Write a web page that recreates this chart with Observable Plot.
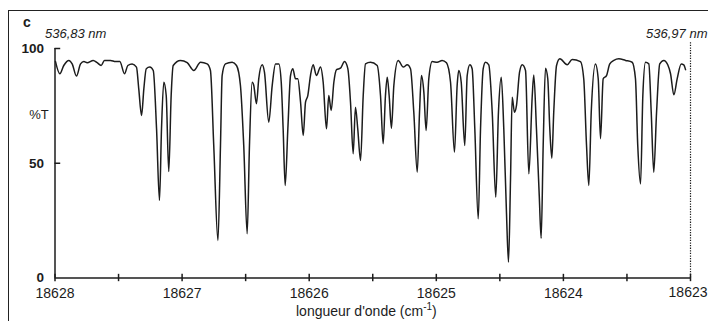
<!DOCTYPE html>
<html>
<head>
<meta charset="utf-8">
<script src="https://cdn.jsdelivr.net/npm/d3@7"></script>
<script src="https://cdn.jsdelivr.net/npm/@observablehq/plot@0.6"></script>
<style>
  html, body { margin: 0; padding: 0; background: #fff; }
  #wrap { position: relative; width: 708px; height: 321px; overflow: hidden; }
  #border { position: absolute; left: 8px; top: 10px; width: 800px; height: 400px;
            border-left: 1.5px solid #222; border-top: 1.5px solid #222; }
  #chart { position: absolute; left: 0; top: 0; }
</style>
</head>
<body>
<div id="wrap"><div id="border"></div><div id="chart"></div></div>
<script>
// wavenumber (cm-1)
const wavenumber = [
18627.996,18627.962,18627.931,18627.891,18627.865,18627.831,18627.799,18627.773,18627.747,18627.699,
18627.668,18627.637,18627.611,18627.563,18627.524,18627.490,18627.453,18627.427,18627.393,18627.359,
18627.341,18627.319,18627.301,18627.282,18627.254,18627.227,18627.201,18627.178,18627.162,18627.144,
18627.125,18627.105,18627.086,18627.070,18627.013,18626.960,18626.908,18626.855,18626.803,18626.777,
18626.751,18626.718,18626.698,18626.685,18626.659,18626.606,18626.572,18626.541,18626.515,18626.488,
18626.470,18626.449,18626.436,18626.415,18626.397,18626.370,18626.352,18626.318,18626.291,18626.265,
18626.239,18626.220,18626.205,18626.189,18626.168,18626.147,18626.129,18626.108,18626.090,18626.068,
18626.047,18626.029,18626.011,18625.990,18625.969,18625.943,18625.911,18625.890,18625.864,18625.846,
18625.827,18625.806,18625.785,18625.754,18625.722,18625.696,18625.675,18625.654,18625.636,18625.618,
18625.596,18625.575,18625.557,18625.518,18625.465,18625.439,18625.418,18625.400,18625.386,18625.371,
18625.353,18625.334,18625.300,18625.260,18625.229,18625.203,18625.177,18625.150,18625.132,18625.117,
18625.098,18625.080,18625.059,18625.032,18624.993,18624.954,18624.920,18624.888,18624.857,18624.836,
18624.823,18624.804,18624.776,18624.757,18624.736,18624.718,18624.697,18624.670,18624.652,18624.631,
18624.613,18624.587,18624.560,18624.532,18624.511,18624.489,18624.469,18624.448,18624.432,18624.416,
18624.403,18624.385,18624.369,18624.345,18624.324,18624.298,18624.272,18624.245,18624.233,18624.212,
18624.190,18624.175,18624.159,18624.141,18624.123,18624.107,18624.091,18624.076,18624.054,18624.028,
18623.970,18623.931,18623.866,18623.840,18623.818,18623.800,18623.781,18623.748,18623.726,18623.708,
18623.687,18623.661,18623.635,18623.603,18623.564,18623.511,18623.459,18623.433,18623.415,18623.393,
18623.375,18623.354,18623.328,18623.309,18623.289,18623.267,18623.242,18623.210,18623.179,18623.157,
18623.131,18623.105,18623.073,18623.053,18623.039
];
// transmission (%T)
const transmission = [
94.3,89.0,92.6,94.8,93.3,88.0,93.3,94.3,93.8,94.8,
93.8,92.6,94.8,94.8,94.3,94.3,89.0,92.6,93.3,91.9,
82.4,70.8,82.4,91.2,91.9,90.4,65.0,33.8,65.0,85.3,
79.5,46.4,79.5,92.6,94.8,93.8,90.4,94.0,93.3,90.4,
57.7,16.3,57.7,88.2,93.3,94.0,92.6,83.9,57.7,19.3,
57.7,85.3,83.9,75.9,86.8,92.9,89.7,67.9,83.9,93.3,
93.3,85.3,65.0,40.3,65.0,88.2,91.2,86.8,86.8,76.6,
62.1,76.6,79.5,88.2,92.9,88.2,91.9,85.3,65.0,79.5,
73.0,85.3,90.8,91.4,94.3,91.2,76.6,54.1,74.4,65.0,
51.2,79.5,93.3,94.0,92.6,79.5,58.5,79.5,87.5,79.5,
65.3,83.9,94.8,91.9,92.9,91.2,72.2,46.1,72.2,88.2,
81.0,64.3,86.8,94.3,94.0,94.8,93.8,85.3,54.8,83.9,
90.4,85.3,57.7,88.2,92.9,91.2,65.0,25.8,65.0,91.2,
94.0,92.9,72.2,35.2,72.2,87.5,65.0,28.6,6.9,43.1,
78.8,72.2,75.2,89.7,92.9,90.4,45.4,79.5,88.5,65.0,
35.9,17.3,57.7,91.4,86.8,65.0,52.2,72.2,92.6,95.5,
92.9,95.2,94.3,86.8,57.7,40.3,72.2,93.3,86.8,60.7,
86.8,88.2,93.3,94.8,95.5,94.8,94.0,86.8,57.7,41.0,
79.5,94.0,93.3,72.2,46.1,72.2,93.3,94.8,92.9,89.0,
79.8,86.8,93.3,92.9,90.8
];
const xMajorTicks = [18628, 18627, 18626, 18625, 18624, 18623];
const xMinorTicks = [18627.5, 18626.5, 18625.5, 18624.5, 18623.5];
const yTicks = [0, 50, 100];
const xDomain = [18628, 18623];
const yDomain = [0, 100];
const panelLabel = "c";
const leftNm = "536,83 nm";
const rightNm = "536,97 nm";
const yLabel = "%T";

const data = wavenumber.map((w, i) => ({w, t: transmission[i]}));
const allTicks = xMajorTicks.concat(xMinorTicks);
const lastTick = xMajorTicks[xMajorTicks.length - 1];

const ink = "#1c1c1c";
const chart = Plot.plot({
  width: 708,
  height: 321,
  marginLeft: 54.5,
  marginRight: 18,
  marginTop: 48,
  marginBottom: 43.5,
  style: {fontFamily: "Liberation Sans, Arial, sans-serif", color: ink, background: "transparent"},
  x: {domain: xDomain},
  y: {domain: yDomain},
  marks: [
    Plot.ruleY([0], {stroke: ink, strokeWidth: 1.5}),
    Plot.ruleX([xDomain[0]], {y1: 0, y2: 100, stroke: ink, strokeWidth: 1.5}),
    Plot.ruleX(allTicks, {x: d => d, y1: -1.6, y2: 1.6, stroke: ink, strokeWidth: 1.5}),
    Plot.ruleY([50, 100], {y: d => d, x1: xDomain[0], x2: 18627.955, stroke: ink, strokeWidth: 1.5}),
    Plot.ruleX([xDomain[1]], {y1: 0, y2: 103, stroke: ink, strokeWidth: 1.2, strokeDasharray: "1.3,1.3"}),
    Plot.axisX({ticks: xMajorTicks.filter(d => d !== lastTick), tickSize: 0, tickPadding: 10, tickFormat: d => String(d), fontSize: 14, label: null}),
    Plot.text([lastTick], {x: d => d, y: 0, dy: 15, text: d => String(d), textAnchor: "end", dx: 17, fontSize: 14, fill: ink}),
    Plot.axisY({ticks: yTicks, tickSize: 0, tickPadding: 11, fontSize: 13.5, fontWeight: "bold", label: null}),
    Plot.line(data, {x: "w", y: "t", curve: "monotone-x", stroke: ink, strokeWidth: 1.5}),
    Plot.text([yLabel], {x: xDomain[0], y: 71, dx: -16, text: d => d, fontSize: 13, fill: ink}),
    Plot.text([leftNm], {x: xDomain[0], y: 106.5, dx: -10, text: d => d, textAnchor: "start", fontSize: 13, fontStyle: "italic", fill: ink}),
    Plot.text([rightNm], {x: xDomain[1], y: 106.5, dx: 17, text: d => d, textAnchor: "end", fontSize: 13, fontStyle: "italic", fill: ink}),
    Plot.text([panelLabel], {x: xDomain[0], y: 111.5, dx: -28, text: d => d, fontSize: 14, fontWeight: "bold", fill: ink})
  ]
});
document.getElementById("chart").appendChild(chart);

// axis title with superscript
const svg = d3.select(chart);
const xs = chart.scale("x");
const t = svg.append("text")
  .attr("x", xs.apply(18626.1))
  .attr("y", 316)
  .attr("text-anchor", "start")
  .attr("font-size", 14)
  .attr("fill", ink)
  .attr("font-family", "Liberation Sans, Arial, sans-serif");
t.append("tspan").text("longueur d'onde (cm");
t.append("tspan").attr("dy", -6).attr("font-size", 10).text("-1");
t.append("tspan").attr("dy", 6).text(")");
</script>
</body>
</html>
